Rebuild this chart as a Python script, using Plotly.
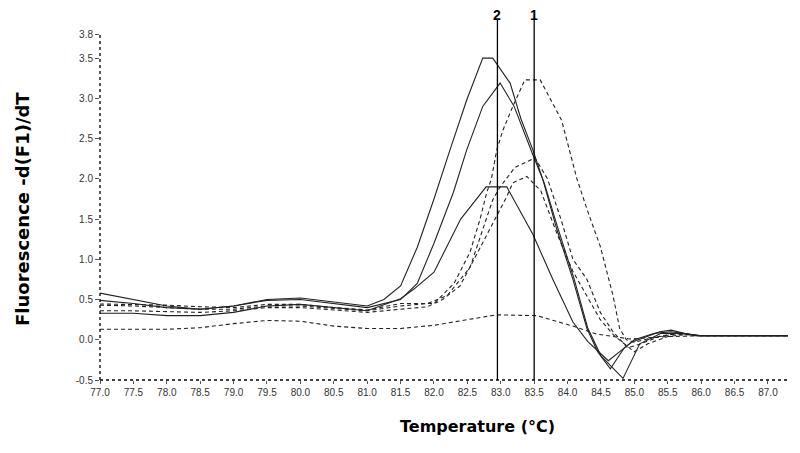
import plotly.graph_objects as go

# Series A (solid, tallest peak)
tA = [77.0, 77.5, 78.0, 78.5, 79.0, 79.5, 80.0, 80.5, 81.0, 81.25, 81.5, 81.75, 82.0, 82.24, 82.49, 82.73, 82.88, 83.14, 83.3, 83.48, 83.63, 83.84, 84.08, 84.29, 84.45, 84.64, 84.85, 85.0, 85.3, 85.55, 85.8, 86.0, 87.3]
vA = [0.58, 0.50, 0.42, 0.38, 0.42, 0.50, 0.52, 0.47, 0.42, 0.50, 0.67, 1.15, 1.75, 2.36, 2.98, 3.50, 3.50, 3.19, 2.75, 2.36, 1.99, 1.37, 0.75, 0.14, -0.15, -0.36, -0.10, 0.00, 0.08, 0.10, 0.07, 0.05, 0.05]

# Series B (solid, peak ~3.2)
tB = [77.0, 77.5, 78.0, 78.5, 79.0, 79.5, 80.0, 80.5, 81.0, 81.5, 81.75, 82.0, 82.29, 82.49, 82.73, 82.99, 83.2, 83.48, 83.65, 83.85, 84.1, 84.3, 84.5, 84.83, 85.08, 85.4, 85.7, 86.0, 87.3]
vB = [0.49, 0.45, 0.40, 0.38, 0.42, 0.49, 0.50, 0.45, 0.40, 0.50, 0.70, 1.20, 1.83, 2.36, 2.90, 3.19, 2.90, 2.30, 1.95, 1.40, 0.75, 0.15, -0.20, -0.48, -0.05, 0.08, 0.08, 0.05, 0.05]

# Series C (solid, flat peak ~1.9)
tC = [77.0, 77.5, 78.0, 78.5, 79.0, 79.5, 80.0, 80.5, 81.0, 81.5, 81.7, 82.0, 82.4, 82.78, 83.09, 83.48, 83.78, 84.08, 84.3, 84.61, 84.96, 85.38, 85.55, 85.9, 87.3]
vC = [0.33, 0.33, 0.30, 0.30, 0.34, 0.42, 0.44, 0.40, 0.36, 0.51, 0.63, 0.84, 1.50, 1.90, 1.90, 1.31, 0.75, 0.22, -0.02, -0.26, -0.03, 0.10, 0.12, 0.05, 0.05]

# Series D (dashed, peak ~3.2 at 83.5)
tD = [77.0, 77.5, 78.0, 78.5, 79.0, 79.5, 80.0, 80.5, 81.0, 81.5, 82.0, 82.3, 82.54, 82.69, 82.79, 82.86, 82.94, 83.03, 83.18, 83.36, 83.59, 83.91, 84.14, 84.3, 84.49, 84.68, 84.78, 84.88, 85.0, 85.3, 85.6, 86.0, 87.3]
vD = [0.445, 0.44, 0.43, 0.41, 0.40, 0.44, 0.44, 0.40, 0.37, 0.45, 0.45, 0.70, 1.09, 1.50, 1.83, 2.00, 2.36, 2.60, 2.90, 3.23, 3.23, 2.73, 2.00, 1.60, 1.16, 0.55, 0.14, 0.00, -0.03, 0.03, 0.07, 0.05, 0.05]

# Series E (dashed, peak ~2.25)
tE = [77.0, 77.5, 78.0, 78.5, 79.0, 79.5, 80.0, 80.5, 81.0, 81.5, 81.9, 82.2, 82.54, 82.73, 82.88, 82.99, 83.21, 83.51, 83.7, 83.9, 84.08, 84.29, 84.49, 84.68, 84.9, 85.1, 85.4, 85.7, 86.0, 87.3]
vE = [0.43, 0.42, 0.40, 0.38, 0.38, 0.42, 0.42, 0.39, 0.36, 0.42, 0.45, 0.55, 0.90, 1.37, 1.74, 1.90, 2.14, 2.26, 2.00, 1.50, 1.00, 0.75, 0.34, 0.10, -0.10, -0.05, 0.05, 0.08, 0.05, 0.05]

# Series F (dashed, peak ~2.05)
tF = [77.0, 77.5, 78.0, 78.5, 79.0, 79.5, 80.0, 80.5, 81.0, 81.5, 81.9, 82.13, 82.39, 82.6, 82.85, 83.09, 83.18, 83.39, 83.6, 83.85, 84.08, 84.29, 84.49, 84.7, 85.0, 85.2, 85.5, 85.8, 86.0, 87.3]
vF = [0.36, 0.36, 0.35, 0.34, 0.36, 0.40, 0.40, 0.37, 0.34, 0.38, 0.41, 0.50, 0.67, 1.00, 1.40, 1.78, 1.95, 2.03, 1.85, 1.30, 0.85, 0.55, 0.25, 0.05, -0.15, -0.05, 0.04, 0.07, 0.05, 0.05]

# Series G (dashed, low baseline)
tG = [77.0, 78.0, 78.5, 79.0, 79.5, 80.0, 80.5, 81.0, 81.5, 82.0, 82.5, 82.94, 83.54, 84.08, 84.44, 84.93, 85.5, 86.0, 87.3]
vG = [0.13, 0.13, 0.15, 0.20, 0.24, 0.23, 0.17, 0.14, 0.14, 0.18, 0.25, 0.31, 0.30, 0.17, 0.07, 0.01, 0.04, 0.05, 0.05]

x_ticks = [77.0, 77.5, 78.0, 78.5, 79.0, 79.5, 80.0, 80.5, 81.0, 81.5, 82.0, 82.5, 83.0, 83.5, 84.0, 84.5, 85.0, 85.5, 86.0, 86.5, 87.0]
y_ticks = [-0.5, 0.0, 0.5, 1.0, 1.5, 2.0, 2.5, 3.0, 3.5, 3.8]
marker_temps = [82.95, 83.5]
marker_labels = ["2", "1"]

# page body has an 8px default margin; figure sized so that it fits the 800x453 window
OFF = 8
W, H = 800 - 2 * OFF, 453 - 2 * OFF
# desired plot area in window pixels
PX0, PX1, PY0, PY1 = 100, 790, 34, 380
L = PX0 - OFF
R = W - (PX1 - OFF)
T = PY0 - OFF
B = H - (PY1 - OFF)
pw, ph = PX1 - PX0, PY1 - PY0


def paper_x(wx):
    return (wx - PX0) / pw


def paper_y(wy):
    return (PY1 - wy) / ph


TITLE_FONT = "DejaVu Sans, Liberation Sans, Arial"

fig = go.Figure()
solid = [(tA, vA), (tB, vB), (tC, vC)]
dashed = [(tD, vD), (tE, vE), (tF, vF), (tG, vG)]
for t, v in solid:
    fig.add_trace(go.Scatter(x=t, y=v, mode="lines",
                             line=dict(color="#222222", width=1.1), showlegend=False))
for t, v in dashed:
    fig.add_trace(go.Scatter(x=t, y=v, mode="lines",
                             line=dict(color="#222222", width=1.1, dash="4px,3px"), showlegend=False))

for t, lab in zip(marker_temps, marker_labels):
    fig.add_shape(type="line", xref="x", yref="paper", x0=t, x1=t, y0=0, y1=paper_y(20),
                  line=dict(color="black", width=1.3))
    fig.add_annotation(x=t, xref="x", y=paper_y(15), yref="paper", text="<b>%s</b>" % lab,
                       showarrow=False, xanchor="center", yanchor="middle",
                       font=dict(family="Liberation Sans, Arial", size=14, color="black"))

# dotted axis lines
fig.add_shape(type="line", xref="paper", yref="paper", x0=0, x1=1, y0=0, y1=0,
              line=dict(color="black", width=1.3, dash="dot"))
fig.add_shape(type="line", xref="paper", yref="paper", x0=0, x1=0, y0=0, y1=1,
              line=dict(color="black", width=1.3, dash="dot"))

fig.add_annotation(x=paper_x(22), xref="paper", y=paper_y(209), yref="paper",
                   text="<b>Fluorescence -d(F1)/dT</b>", textangle=-90, showarrow=False,
                   xanchor="center", yanchor="middle",
                   font=dict(family=TITLE_FONT, size=18, color="black"))
fig.add_annotation(x=paper_x(478), xref="paper", y=paper_y(426), yref="paper",
                   text="<b>Temperature (°C)</b>", showarrow=False,
                   xanchor="center", yanchor="middle",
                   font=dict(family=TITLE_FONT, size=16, color="black"))

fig.update_layout(
    width=W, height=H,
    margin=dict(l=L, r=R, t=T, b=B, autoexpand=False),
    paper_bgcolor="white", plot_bgcolor="white",
    xaxis=dict(range=[77.0, 87.33], tickvals=x_ticks, ticktext=["%.1f" % v for v in x_ticks],
               showgrid=False, zeroline=False, showline=False, ticks="outside", ticklen=3,
               tickcolor="#555", tickfont=dict(family="Liberation Sans, Arial", size=10, color="#333")),
    yaxis=dict(range=[-0.5, 3.8], tickvals=y_ticks, ticktext=["%.1f" % v for v in y_ticks],
               showgrid=False, zeroline=False, showline=False, ticks="outside", ticklen=4,
               tickcolor="#555", tickfont=dict(family="Liberation Sans, Arial", size=10, color="#333")),
    font=dict(family="Liberation Sans, Arial"),
)

fig.write_html("out.html")
